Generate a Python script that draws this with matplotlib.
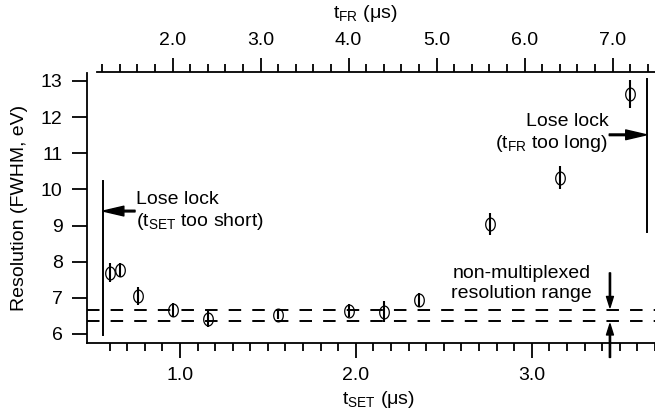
import matplotlib
matplotlib.use('Agg')
from matplotlib import pyplot as plt
from matplotlib.path import Path
from matplotlib.ticker import FixedLocator, NullLocator
import numpy as np

plt.rcParams['font.family'] = ['Liberation Sans', 'DejaVu Sans']
plt.rcParams['mathtext.fontset'] = 'custom'
plt.rcParams['mathtext.rm'] = 'Liberation Sans'
plt.rcParams['mathtext.it'] = 'Liberation Sans'
plt.rcParams['lines.scale_dashes'] = False

# data
t_set = [0.60, 0.66, 0.76, 0.96, 1.16, 1.56, 1.96, 2.16, 2.36, 2.76, 3.16, 3.56]
resolution = [7.70, 7.77, 7.05, 6.66, 6.42, 6.53, 6.64, 6.62, 6.94, 9.05, 10.32, 12.65]
res_err = [0.26, 0.20, 0.26, 0.20, 0.22, 0.12, 0.18, 0.30, 0.20, 0.30, 0.32, 0.39]
band = [6.35, 6.65]          # non-multiplexed resolution range
y_ticks = [6, 7, 8, 9, 10, 11, 12, 13]
set_major = [1.0, 2.0, 3.0]
fr_major = [2.0, 3.0, 4.0, 5.0, 6.0, 7.0]

def to_fr(t):
    return 2 * t + 0.083

xlo, xhi = 0.472, 3.70
ylo, yhi = 5.75, 13.22
fs = 14
lw = 1.3

# slightly tall ellipse marker
th = np.linspace(0, 2 * np.pi, 60)
ell = Path(np.column_stack([0.75 * np.cos(th), np.sin(th)]))

fig = plt.figure(figsize=(6.55, 4.12), dpi=100)
ax = fig.add_axes([87 / 655, 69 / 412, 1 - 87 / 655, 270 / 412])

ax.errorbar(t_set, resolution, yerr=res_err, fmt='none', ecolor='k', elinewidth=1.5, capsize=0)
ax.plot(t_set, resolution, linestyle='none', marker=ell, markersize=9.2,
        mfc='none', mec='k', mew=0.9)

for b in band:
    ax.plot([xlo, xhi], [b, b], color='k', lw=1.4, dashes=(9, 8))

# lose-lock limits
ax.plot([0.561, 0.561], [5.98, 10.22], color='k', lw=1.4)
ax.plot([3.654, 3.654], [8.83, 13.05], color='k', lw=1.4)
big = dict(facecolor='k', edgecolor='k', width=1.2, headwidth=7, headlength=15, shrink=0)
ax.annotate('', xy=(0.563, 9.4), xytext=(0.745, 9.4), arrowprops=big)
ax.annotate('', xy=(3.652, 11.51), xytext=(3.44, 11.51), arrowprops=big)
ax.text(0.75, 9.40, 'Lose lock\n(t$_\\mathregular{SET}$ too short)', fontsize=fs,
        ha='left', va='center', linespacing=1.2)
ax.text(3.435, 11.55, 'Lose lock\n(t$_\\mathregular{FR}$ too long)', fontsize=fs,
        ha='right', va='center', linespacing=1.2)

# range arrows
small = dict(facecolor='k', edgecolor='k', width=0.9, headwidth=5, headlength=8, shrink=0)
ax.annotate('', xy=(3.444, 6.73), xytext=(3.444, 7.69), arrowprops=small)
ax.annotate('', xy=(3.444, 6.28), xytext=(3.444, 5.35), arrowprops=small,
            annotation_clip=False)
ax.text(2.941, 7.39, 'non-multiplexed\nresolution range', fontsize=fs,
        ha='center', va='center', linespacing=1.2)

ax.set_xlim(xlo, xhi)
ax.set_ylim(ylo, yhi)
ax.set_yticks(y_ticks)
ax.set_xticks(set_major)
ax.set_xticklabels([f'{v:.1f}' for v in set_major])
ax.xaxis.set_minor_locator(FixedLocator(np.arange(0.6, 3.71, 0.1)))
ax.yaxis.set_minor_locator(NullLocator())
ax.tick_params(axis='both', which='major', direction='out', length=11, width=lw,
               labelsize=fs)
ax.tick_params(axis='x', which='major', pad=6)
ax.tick_params(axis='y', which='major', pad=6.5)
ax.tick_params(axis='x', which='minor', direction='out', length=6, width=lw)
for s in ['top', 'right']:
    ax.spines[s].set_visible(False)
for s in ['left', 'bottom']:
    ax.spines[s].set_linewidth(lw)

ax2 = ax.twiny()
ax2.set_xlim(to_fr(xlo), to_fr(xhi))
ax2.set_xticks(fr_major)
ax2.set_xticklabels([f'{v:.1f}' for v in fr_major])
ax2.xaxis.set_minor_locator(FixedLocator(np.arange(1.2, 7.6, 0.2)))
ax2.tick_params(axis='x', which='major', direction='out', length=10, width=lw,
                labelsize=fs, pad=6)
ax2.tick_params(axis='x', which='minor', direction='out', length=6, width=lw)
for s in ['left', 'right', 'bottom']:
    ax2.spines[s].set_visible(False)
ax2.spines['top'].set_linewidth(lw)
ax2.spines['top'].set_bounds(1.14, to_fr(xhi))
ax2.spines['top'].set_position(('outward', 1))

fig.text(20 / 655, 1 - 208 / 412, 'Resolution (FWHM, eV)', rotation=90,
         fontsize=fs, ha='center', va='center')
fig.text(378 / 655, 1 - 400 / 412, 't$_\\mathregular{SET}$ (μs)', fontsize=fs,
         ha='center', va='center')
fig.text(365 / 655, 1 - 13 / 412, 't$_\\mathregular{FR}$ (μs)', fontsize=fs,
         ha='center', va='center')

fig.savefig('out.png', dpi=100)
